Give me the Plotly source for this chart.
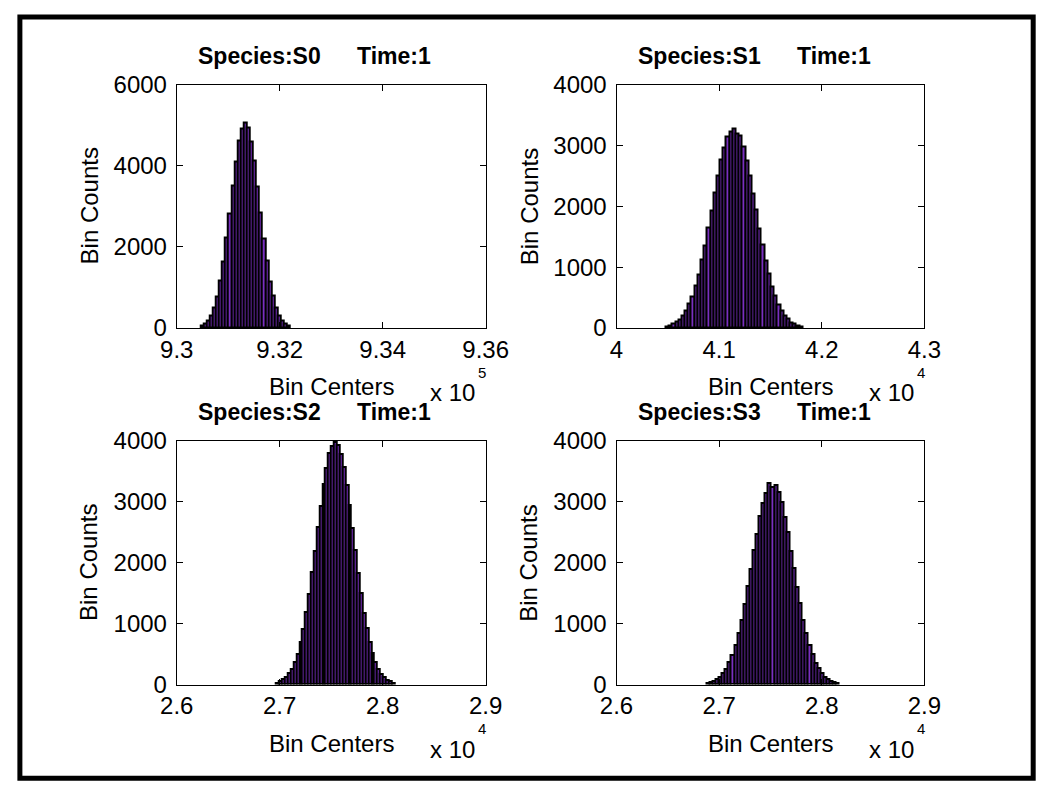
import plotly.graph_objects as go

W, H = 1061, 799
FONT = "Liberation Sans, Arial, sans-serif"

# ---------------- data ----------------
SPECIES = ["Species:S0", "Species:S1", "Species:S2", "Species:S3"]
TIME_LABEL = "Time:1"

# histogram bins: first bin center and bin width, then the counts
S0_START, S0_WIDTH = 930490, 60
S0_COUNTS = [56, 101, 188, 309, 517, 779, 1170, 1628, 2221, 2832, 3510, 4092, 4621, 4921,
             5060, 4948, 4595, 4120, 3482, 2858, 2196, 1651, 1150, 795, 502, 318, 181, 108, 52]

S1_START, S1_WIDTH = 40493, 31
S1_COUNTS = [29, 45, 66, 101, 143, 210, 286, 401, 525, 697, 880, 1122, 1360, 1652, 1925,
             2231, 2498, 2770, 2965, 3150, 3232, 3285, 3190, 3160, 2985, 2752, 2512, 2215,
             1940, 1638, 1378, 1108, 895, 688, 533, 390, 292, 203, 148, 96, 68, 42, 27]

S2_START, S2_WIDTH = 26980, 28
S2_COUNTS = [30, 52, 84, 118, 183, 255, 376, 509, 702, 915, 1195, 1488, 1845, 2190, 2582,
             2935, 3290, 3560, 3801, 3915, 3985, 3940, 3780, 3575, 3270, 2950, 2565, 2210,
             1825, 1502, 1180, 925, 690, 520, 365, 262, 176, 124, 77, 51, 30]

S3_START, S3_WIDTH = 26890, 30
S3_COUNTS = [22, 38, 58, 84, 130, 188, 262, 366, 490, 655, 850, 1065, 1330, 1610, 1895,
             2210, 2480, 2765, 2975, 3150, 3310, 3240, 3285, 3160, 2990, 2745, 2500, 2190,
             1910, 1598, 1335, 1062, 850, 648, 498, 360, 268, 182, 131, 84, 58, 36, 22]

X_TICKVALS = [
    [930000, 932000, 934000, 936000],
    [40000, 41000, 42000, 43000],
    [26000, 27000, 28000, 29000],
    [26000, 27000, 28000, 29000],
]
X_TICKTEXT = [
    ["9.3", "9.32", "9.34", "9.36"],
    ["4", "4.1", "4.2", "4.3"],
    ["2.6", "2.7", "2.8", "2.9"],
    ["2.6", "2.7", "2.8", "2.9"],
]
X_EXPONENT = ["5", "4", "4", "4"]
Y_TICKVALS = [
    [0, 2000, 4000, 6000],
    [0, 1000, 2000, 3000, 4000],
    [0, 1000, 2000, 3000, 4000],
    [0, 1000, 2000, 3000, 4000],
]
X_LABEL = "Bin Centers"
Y_LABEL = "Bin Counts"

HISTS = [
    (S0_START, S0_WIDTH, S0_COUNTS),
    (S1_START, S1_WIDTH, S1_COUNTS),
    (S2_START, S2_WIDTH, S2_COUNTS),
    (S3_START, S3_WIDTH, S3_COUNTS),
]

# ---------------- layout (pixels) ----------------
COLS = [(166, 487), (623, 943)]
ROWS = [(73, 325), (442, 694)]


def px(p):
    return p / W


def py(p):
    return 1 - p / H


fig = go.Figure()
annotations = []

for i, (start, width, counts) in enumerate(HISTS):
    r, c = divmod(i, 2)
    xl, xr = COLS[c]
    yt, yb = ROWS[r]
    n = i + 1
    xa = "x" if n == 1 else f"x{n}"
    ya = "y" if n == 1 else f"y{n}"
    fig.add_trace(go.Bar(
        x0=start, dx=width, y=counts, width=width,
        marker=dict(color="#7a30c0", line=dict(color="black", width=2)),
        xaxis=xa, yaxis=ya, showlegend=False, hoverinfo="skip",
    ))
    ax_common = dict(
        showline=True, linecolor="black", linewidth=1, mirror="ticks",
        ticks="inside", ticklen=6, tickcolor="black", tickwidth=1,
        showgrid=False, zeroline=False,
        tickfont=dict(family=FONT, size=24, color="black"),
    )
    xvals = X_TICKVALS[i]
    fig.update_layout(**{
        ("xaxis" if n == 1 else f"xaxis{n}"): dict(
            ax_common, domain=[px(xl), px(xr)], anchor=ya,
            range=[xvals[0], xvals[-1]], tickvals=xvals, ticktext=X_TICKTEXT[i],
            ticklabelstandoff=0,
        ),
        ("yaxis" if n == 1 else f"yaxis{n}"): dict(
            ax_common, domain=[py(yb), py(yt)], anchor=xa,
            range=[0, Y_TICKVALS[i][-1]], tickvals=Y_TICKVALS[i],
            ticklabelstandoff=4,
        ),
    })
    # title pieces
    annotations.append(dict(
        text=f"<b>{SPECIES[i]}</b>", x=px(xl + 20), y=py(yt - 30),
        xref="paper", yref="paper", xanchor="left", yanchor="middle",
        showarrow=False, font=dict(family=FONT, size=23, color="black")))
    annotations.append(dict(
        text=f"<b>{TIME_LABEL}</b>", x=px(xl + 185), y=py(yt - 30),
        xref="paper", yref="paper", xanchor="left", yanchor="middle",
        showarrow=False, font=dict(family=FONT, size=23, color="black")))
    # axis labels
    annotations.append(dict(
        text=X_LABEL, x=px((xl + xr) / 2), y=py(yb + 61),
        xref="paper", yref="paper", xanchor="center", yanchor="middle",
        showarrow=False, font=dict(family=FONT, size=24, color="black")))
    annotations.append(dict(
        text=Y_LABEL, x=px(xl - 91), y=py((yt + yb) / 2), textangle=-90,
        xref="paper", yref="paper", xanchor="center", yanchor="middle",
        showarrow=False, font=dict(family=FONT, size=24, color="black")))
    # exponent
    annotations.append(dict(
        text="x 10", x=px(xr - 9), y=py(yb + 67),
        xref="paper", yref="paper", xanchor="right", yanchor="middle",
        showarrow=False, font=dict(family=FONT, size=24, color="black")))
    annotations.append(dict(
        text=X_EXPONENT[i], x=px(xr - 10), y=py(yb + 46),
        xref="paper", yref="paper", xanchor="left", yanchor="middle",
        showarrow=False, font=dict(family=FONT, size=15, color="black")))

fig.update_layout(
    width=W, height=H, autosize=False,
    margin=dict(l=0, r=0, t=0, b=0),
    paper_bgcolor="white", plot_bgcolor="white",
    bargap=0, annotations=annotations,
    shapes=[dict(type="rect", xref="paper", yref="paper",
                 x0=px(3), x1=px(1056), y0=py(791), y1=py(3),
                 line=dict(color="black", width=5))],
)

fig.write_html(
    "out.html",
    config={"displayModeBar": False},
    post_script="document.body.style.margin='0px';document.body.style.overflow='hidden';",
)
